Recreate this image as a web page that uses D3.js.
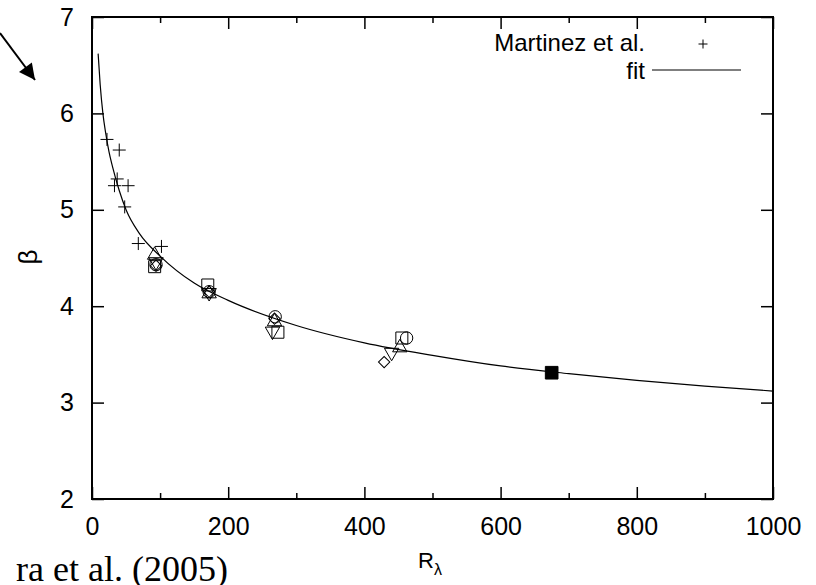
<!DOCTYPE html>
<html>
<head>
<meta charset="utf-8">
<script src="https://cdn.jsdelivr.net/npm/d3@7"></script>
<style>
  body { margin: 0; background: #fff; }
  svg { display: block; }
  .tick text { font-family: "Liberation Sans", Arial, sans-serif; font-size: 25px; fill: #000; }
  .tick line { stroke: #000; stroke-width: 1.5; }
</style>
</head>
<body>
<div class="viz"></div>
<script>
// Martinez et al. points (R_lambda, beta)
let martinezR = [22, 40, 37, 33, 53, 48, 68, 102];
let martinezB = [5.73, 5.62, 5.32, 5.25, 5.25, 5.03, 4.65, 4.62];

// other simulation points, one array per symbol
let triUpR = [92, 172, 268, 452];
let triUpB = [4.53, 4.13, 3.84, 3.57];
let triDownR = [94, 172, 265, 440];
let triDownB = [4.46, 4.14, 3.74, 3.52];
let squareR = [92, 170, 273, 455];
let squareB = [4.41, 4.22, 3.73, 3.67];
let circleR = [94, 172, 269, 462];
let circleB = [4.43, 4.15, 3.89, 3.67];
let diamondR = [94, 172, 268, 429];
let diamondB = [4.42, 4.15, 3.87, 3.42];
let filledR = [675];
let filledB = [3.31];

// fit curve
let fitR = [9, 12, 16, 20, 25, 30, 40, 50, 70, 100, 150, 200, 300, 400, 500, 600, 700, 800, 900, 1000];
let fitB = [6.62, 6.30, 6.00, 5.80, 5.60, 5.45, 5.20, 5.00, 4.75, 4.52, 4.24, 4.06, 3.80, 3.62, 3.49, 3.38, 3.30, 3.23, 3.17, 3.12];

let xMajor = [0, 200, 400, 600, 800, 1000];
let xMinor = [100, 300, 500, 700, 900];
let yMajor = [2, 3, 4, 5, 6, 7];

let width = 816, height = 585;
let plot = {left: 92, right: 773, top: 17, bottom: 499};

let svg = d3.select('.viz').append('svg')
	.attr('width', width)
	.attr('height', height);

let x = d3.scaleLinear().domain([0, 1000]).range([plot.left, plot.right]);
let y = d3.scaleLinear().domain([2, 7]).range([plot.bottom, plot.top]);

// axes, ticks pointing inward
svg.append('g')
	.attr('transform', 'translate(0,' + plot.bottom + ')')
	.call(d3.axisBottom(x).tickValues(xMajor).tickSize(-12).tickPadding(18).tickFormat(d3.format('d')))
	.call(g => g.select('.domain').remove());
svg.append('g')
	.attr('transform', 'translate(0,' + plot.bottom + ')')
	.call(d3.axisBottom(x).tickValues(xMinor).tickSize(-6).tickFormat(''))
	.call(g => g.select('.domain').remove());
svg.append('g')
	.attr('transform', 'translate(0,' + plot.top + ')')
	.call(d3.axisTop(x).tickValues(xMajor).tickSize(-12).tickFormat(''))
	.call(g => g.select('.domain').remove());
svg.append('g')
	.attr('transform', 'translate(0,' + plot.top + ')')
	.call(d3.axisTop(x).tickValues(xMinor).tickSize(-6).tickFormat(''))
	.call(g => g.select('.domain').remove());
svg.append('g')
	.attr('transform', 'translate(' + plot.left + ',0)')
	.call(d3.axisLeft(y).tickValues(yMajor).tickSize(-12).tickPadding(18).tickFormat(d3.format('d')))
	.call(g => g.select('.domain').remove());
svg.append('g')
	.attr('transform', 'translate(' + plot.right + ',0)')
	.call(d3.axisRight(y).tickValues(yMajor).tickSize(-12).tickFormat(''))
	.call(g => g.select('.domain').remove());

svg.append('rect')
	.attr('x', plot.left)
	.attr('y', plot.top)
	.attr('width', plot.right - plot.left)
	.attr('height', plot.bottom - plot.top)
	.attr('fill', 'none')
	.attr('stroke', '#000')
	.attr('stroke-width', 2);

// fit line
let line = d3.line()
	.x(d => x(d[0]))
	.y(d => y(d[1]))
	.curve(d3.curveMonotoneX);
svg.append('path')
	.datum(d3.zip(fitR, fitB))
	.attr('d', line)
	.attr('fill', 'none')
	.attr('stroke', '#000')
	.attr('stroke-width', 1.2);

// markers
function drawSymbols(rs, bs, type, size, rotate, fill) {
	svg.append('g').selectAll('path')
		.data(d3.zip(rs, bs))
		.enter().append('path')
		.attr('d', d3.symbol().type(type).size(size))
		.attr('transform', d => 'translate(' + x(d[0]) + ',' + y(d[1]) + ') rotate(' + rotate + ')')
		.attr('fill', fill)
		.attr('stroke', '#000')
		.attr('stroke-width', 1);
}
drawSymbols(squareR, squareB, d3.symbolSquare, 144, 0, 'none');
drawSymbols(circleR, circleB, d3.symbolCircle, 120, 0, 'none');
drawSymbols(diamondR, diamondB, d3.symbolSquare, 64, 45, 'none');
drawSymbols(triUpR, triUpB, d3.symbolTriangle, 90, 0, 'none');
drawSymbols(triDownR, triDownB, d3.symbolTriangle, 90, 180, 'none');
drawSymbols(filledR, filledB, d3.symbolSquare, 160, 0, '#000');

let plus = 'M-6.5,0H6.5M0,-6.5V6.5';
svg.append('g').selectAll('path')
	.data(d3.zip(martinezR, martinezB))
	.enter().append('path')
	.attr('d', plus)
	.attr('transform', d => 'translate(' + x(d[0]) + ',' + y(d[1]) + ')')
	.attr('stroke', '#000')
	.attr('stroke-width', 1);

// legend
let legendFont = '"Liberation Sans", Arial, sans-serif';
svg.append('text')
	.attr('x', 645).attr('y', 51)
	.attr('text-anchor', 'end')
	.style('font-family', legendFont).style('font-size', '24px')
	.text('Martinez et al.');
svg.append('path')
	.attr('d', 'M-4.5,0H4.5M0,-4.5V4.5')
	.attr('transform', 'translate(703,44)')
	.attr('stroke', '#000').attr('stroke-width', 1);
svg.append('text')
	.attr('x', 645).attr('y', 79)
	.attr('text-anchor', 'end')
	.style('font-family', legendFont).style('font-size', '24px')
	.text('fit');
svg.append('line')
	.attr('x1', 652).attr('x2', 741)
	.attr('y1', 70).attr('y2', 70)
	.attr('stroke', '#000').attr('stroke-width', 1.2);

// axis titles
svg.append('text')
	.attr('transform', 'translate(37,257) rotate(-90)')
	.attr('text-anchor', 'middle')
	.style('font-family', legendFont).style('font-size', '26px')
	.text('β');
let xt = svg.append('text')
	.attr('x', 418).attr('y', 568)
	.style('font-family', legendFont).style('font-size', '22px');
xt.append('tspan').text('R');
xt.append('tspan').attr('dy', 7).style('font-size', '16px').text('λ');

// arrow in the corner
let defs = svg.append('defs');
defs.append('marker')
	.attr('id', 'head')
	.attr('viewBox', '0 0 10 10')
	.attr('refX', 10).attr('refY', 5)
	.attr('markerWidth', 22).attr('markerHeight', 16)
	.attr('markerUnits', 'userSpaceOnUse')
	.attr('orient', 'auto')
	.append('path')
	.attr('d', 'M0,0L10,5L0,10z')
	.attr('fill', '#000');
svg.append('line')
	.attr('x1', 0).attr('y1', 33)
	.attr('x2', 35).attr('y2', 80)
	.attr('stroke', '#000').attr('stroke-width', 2)
	.attr('marker-end', 'url(#head)');

// clipped caption at the bottom left
svg.append('text')
	.attr('x', 228).attr('y', 581)
	.attr('text-anchor', 'end')
	.style('font-family', '"Liberation Serif", "Times New Roman", serif')
	.style('font-size', '36px')
	.text('ra et al. (2005)');
</script>
</body>
</html>
